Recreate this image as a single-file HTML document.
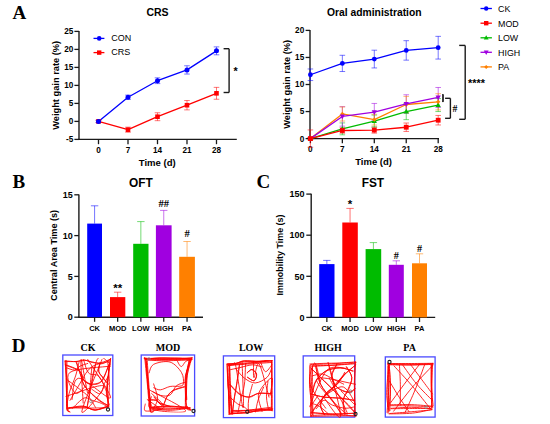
<!DOCTYPE html>
<html><head><meta charset="utf-8"><style>
html,body{margin:0;padding:0;background:#fff;}
svg{display:block;}
</style></head><body>
<svg width="550" height="424" viewBox="0 0 550 424">
<rect width="550" height="424" fill="#fff"/>
<text x="12.50" y="18.90" font-family="Liberation Serif, serif" font-size="19" font-weight="bold" fill="#000">A</text>
<text x="12.40" y="187.70" font-family="Liberation Serif, serif" font-size="19" font-weight="bold" fill="#000">B</text>
<text x="256.40" y="187.70" font-family="Liberation Serif, serif" font-size="19" font-weight="bold" fill="#000">C</text>
<text x="11.80" y="352.10" font-family="Liberation Serif, serif" font-size="19" font-weight="bold" fill="#000">D</text>
<text x="157.50" y="16.40" font-family="Liberation Sans, sans-serif" font-size="10.5" font-weight="bold" fill="#000" text-anchor="middle">CRS</text>
<line x1="79.00" y1="31.10" x2="79.00" y2="140.00" stroke="#1a1a1a" stroke-width="1.4"/>
<line x1="78.40" y1="139.40" x2="236.80" y2="139.40" stroke="#1a1a1a" stroke-width="1.4"/>
<line x1="74.40" y1="139.40" x2="79.00" y2="139.40" stroke="#1a1a1a" stroke-width="1.3"/>
<text x="73.40" y="142.30" font-family="Liberation Sans, sans-serif" font-size="8.2" font-weight="bold" fill="#000" text-anchor="end">-5</text>
<line x1="74.40" y1="121.40" x2="79.00" y2="121.40" stroke="#1a1a1a" stroke-width="1.3"/>
<text x="73.40" y="124.30" font-family="Liberation Sans, sans-serif" font-size="8.2" font-weight="bold" fill="#000" text-anchor="end">0</text>
<line x1="74.40" y1="103.40" x2="79.00" y2="103.40" stroke="#1a1a1a" stroke-width="1.3"/>
<text x="73.40" y="106.30" font-family="Liberation Sans, sans-serif" font-size="8.2" font-weight="bold" fill="#000" text-anchor="end">5</text>
<line x1="74.40" y1="85.40" x2="79.00" y2="85.40" stroke="#1a1a1a" stroke-width="1.3"/>
<text x="73.40" y="88.30" font-family="Liberation Sans, sans-serif" font-size="8.2" font-weight="bold" fill="#000" text-anchor="end">10</text>
<line x1="74.40" y1="67.40" x2="79.00" y2="67.40" stroke="#1a1a1a" stroke-width="1.3"/>
<text x="73.40" y="70.30" font-family="Liberation Sans, sans-serif" font-size="8.2" font-weight="bold" fill="#000" text-anchor="end">15</text>
<line x1="74.40" y1="49.40" x2="79.00" y2="49.40" stroke="#1a1a1a" stroke-width="1.3"/>
<text x="73.40" y="52.30" font-family="Liberation Sans, sans-serif" font-size="8.2" font-weight="bold" fill="#000" text-anchor="end">20</text>
<line x1="74.40" y1="31.40" x2="79.00" y2="31.40" stroke="#1a1a1a" stroke-width="1.3"/>
<text x="73.40" y="34.30" font-family="Liberation Sans, sans-serif" font-size="8.2" font-weight="bold" fill="#000" text-anchor="end">25</text>
<line x1="98.50" y1="139.40" x2="98.50" y2="144.20" stroke="#1a1a1a" stroke-width="1.3"/>
<text x="98.50" y="152.70" font-family="Liberation Sans, sans-serif" font-size="8.2" font-weight="bold" fill="#000" text-anchor="middle">0</text>
<line x1="128.00" y1="139.40" x2="128.00" y2="144.20" stroke="#1a1a1a" stroke-width="1.3"/>
<text x="128.00" y="152.70" font-family="Liberation Sans, sans-serif" font-size="8.2" font-weight="bold" fill="#000" text-anchor="middle">7</text>
<line x1="157.50" y1="139.40" x2="157.50" y2="144.20" stroke="#1a1a1a" stroke-width="1.3"/>
<text x="157.50" y="152.70" font-family="Liberation Sans, sans-serif" font-size="8.2" font-weight="bold" fill="#000" text-anchor="middle">14</text>
<line x1="186.99" y1="139.40" x2="186.99" y2="144.20" stroke="#1a1a1a" stroke-width="1.3"/>
<text x="186.99" y="152.70" font-family="Liberation Sans, sans-serif" font-size="8.2" font-weight="bold" fill="#000" text-anchor="middle">21</text>
<line x1="216.49" y1="139.40" x2="216.49" y2="144.20" stroke="#1a1a1a" stroke-width="1.3"/>
<text x="216.49" y="152.70" font-family="Liberation Sans, sans-serif" font-size="8.2" font-weight="bold" fill="#000" text-anchor="middle">28</text>
<text x="157.30" y="166.00" font-family="Liberation Sans, sans-serif" font-size="9" font-weight="bold" fill="#000" text-anchor="middle" textLength="37" lengthAdjust="spacingAndGlyphs">Time  (d)</text>
<text x="59.20" y="85.30" font-family="Liberation Sans, sans-serif" font-size="9" font-weight="bold" fill="#000" text-anchor="middle" textLength="89" lengthAdjust="spacingAndGlyphs" transform="rotate(-90 59.2 85.3)">Weight gain rate  (%)</text>
<line x1="98.50" y1="120.32" x2="98.50" y2="122.48" stroke="#0000ff" stroke-width="0.9" stroke-opacity="0.6"/>
<line x1="95.70" y1="120.32" x2="101.30" y2="120.32" stroke="#0000ff" stroke-width="0.9" stroke-opacity="0.6"/>
<line x1="95.70" y1="122.48" x2="101.30" y2="122.48" stroke="#0000ff" stroke-width="0.9" stroke-opacity="0.6"/>
<line x1="98.50" y1="120.32" x2="98.50" y2="122.48" stroke="#ff0000" stroke-width="0.9" stroke-opacity="0.6"/>
<line x1="95.70" y1="120.32" x2="101.30" y2="120.32" stroke="#ff0000" stroke-width="0.9" stroke-opacity="0.6"/>
<line x1="95.70" y1="122.48" x2="101.30" y2="122.48" stroke="#ff0000" stroke-width="0.9" stroke-opacity="0.6"/>
<line x1="128.00" y1="95.12" x2="128.00" y2="99.44" stroke="#0000ff" stroke-width="0.9" stroke-opacity="0.6"/>
<line x1="125.20" y1="95.12" x2="130.80" y2="95.12" stroke="#0000ff" stroke-width="0.9" stroke-opacity="0.6"/>
<line x1="125.20" y1="99.44" x2="130.80" y2="99.44" stroke="#0000ff" stroke-width="0.9" stroke-opacity="0.6"/>
<line x1="128.00" y1="127.16" x2="128.00" y2="132.20" stroke="#ff0000" stroke-width="0.9" stroke-opacity="0.6"/>
<line x1="125.20" y1="127.16" x2="130.80" y2="127.16" stroke="#ff0000" stroke-width="0.9" stroke-opacity="0.6"/>
<line x1="125.20" y1="132.20" x2="130.80" y2="132.20" stroke="#ff0000" stroke-width="0.9" stroke-opacity="0.6"/>
<line x1="157.50" y1="77.84" x2="157.50" y2="83.60" stroke="#0000ff" stroke-width="0.9" stroke-opacity="0.6"/>
<line x1="154.70" y1="77.84" x2="160.30" y2="77.84" stroke="#0000ff" stroke-width="0.9" stroke-opacity="0.6"/>
<line x1="154.70" y1="83.60" x2="160.30" y2="83.60" stroke="#0000ff" stroke-width="0.9" stroke-opacity="0.6"/>
<line x1="157.50" y1="112.76" x2="157.50" y2="120.68" stroke="#ff0000" stroke-width="0.9" stroke-opacity="0.6"/>
<line x1="154.70" y1="112.76" x2="160.30" y2="112.76" stroke="#ff0000" stroke-width="0.9" stroke-opacity="0.6"/>
<line x1="154.70" y1="120.68" x2="160.30" y2="120.68" stroke="#ff0000" stroke-width="0.9" stroke-opacity="0.6"/>
<line x1="186.99" y1="65.78" x2="186.99" y2="74.06" stroke="#0000ff" stroke-width="0.9" stroke-opacity="0.6"/>
<line x1="184.19" y1="65.78" x2="189.79" y2="65.78" stroke="#0000ff" stroke-width="0.9" stroke-opacity="0.6"/>
<line x1="184.19" y1="74.06" x2="189.79" y2="74.06" stroke="#0000ff" stroke-width="0.9" stroke-opacity="0.6"/>
<line x1="186.99" y1="100.52" x2="186.99" y2="109.88" stroke="#ff0000" stroke-width="0.9" stroke-opacity="0.6"/>
<line x1="184.19" y1="100.52" x2="189.79" y2="100.52" stroke="#ff0000" stroke-width="0.9" stroke-opacity="0.6"/>
<line x1="184.19" y1="109.88" x2="189.79" y2="109.88" stroke="#ff0000" stroke-width="0.9" stroke-opacity="0.6"/>
<line x1="216.49" y1="46.88" x2="216.49" y2="54.80" stroke="#0000ff" stroke-width="0.9" stroke-opacity="0.6"/>
<line x1="213.69" y1="46.88" x2="219.29" y2="46.88" stroke="#0000ff" stroke-width="0.9" stroke-opacity="0.6"/>
<line x1="213.69" y1="54.80" x2="219.29" y2="54.80" stroke="#0000ff" stroke-width="0.9" stroke-opacity="0.6"/>
<line x1="216.49" y1="87.38" x2="216.49" y2="99.26" stroke="#ff0000" stroke-width="0.9" stroke-opacity="0.6"/>
<line x1="213.69" y1="87.38" x2="219.29" y2="87.38" stroke="#ff0000" stroke-width="0.9" stroke-opacity="0.6"/>
<line x1="213.69" y1="99.26" x2="219.29" y2="99.26" stroke="#ff0000" stroke-width="0.9" stroke-opacity="0.6"/>
<polyline points="98.50,121.40 128.00,129.68 157.50,116.72 186.99,105.20 216.49,93.32" fill="none" stroke="#ff0000" stroke-width="1.3" stroke-linejoin="round"/>
<polyline points="98.50,121.40 128.00,97.28 157.50,80.72 186.99,69.92 216.49,50.84" fill="none" stroke="#0000ff" stroke-width="1.3" stroke-linejoin="round"/>
<rect x="96.20" y="119.10" width="4.60" height="4.60" fill="#ff0000"/>
<rect x="125.70" y="127.38" width="4.60" height="4.60" fill="#ff0000"/>
<rect x="155.20" y="114.42" width="4.60" height="4.60" fill="#ff0000"/>
<rect x="184.69" y="102.90" width="4.60" height="4.60" fill="#ff0000"/>
<rect x="214.19" y="91.02" width="4.60" height="4.60" fill="#ff0000"/>
<circle cx="98.50" cy="121.40" r="2.5" fill="#0000ff"/>
<circle cx="128.00" cy="97.28" r="2.5" fill="#0000ff"/>
<circle cx="157.50" cy="80.72" r="2.5" fill="#0000ff"/>
<circle cx="186.99" cy="69.92" r="2.5" fill="#0000ff"/>
<circle cx="216.49" cy="50.84" r="2.5" fill="#0000ff"/>
<line x1="93.50" y1="38.40" x2="104.40" y2="38.40" stroke="#0000ff" stroke-width="1.3"/>
<circle cx="99.20" cy="38.40" r="2.3" fill="#0000ff"/>
<text x="111.20" y="41.00" font-family="Liberation Sans, sans-serif" font-size="9" font-weight="normal" fill="#000">CON</text>
<line x1="93.50" y1="52.60" x2="104.40" y2="52.60" stroke="#ff0000" stroke-width="1.3"/>
<rect x="97.00" y="50.40" width="4.40" height="4.40" fill="#ff0000"/>
<text x="111.20" y="55.20" font-family="Liberation Sans, sans-serif" font-size="9" font-weight="normal" fill="#000">CRS</text>
<line x1="223.60" y1="48.70" x2="229.10" y2="48.70" stroke="#1a1a1a" stroke-width="1.4"/>
<line x1="229.10" y1="48.70" x2="229.10" y2="92.50" stroke="#1a1a1a" stroke-width="1.4"/>
<line x1="223.60" y1="92.50" x2="229.10" y2="92.50" stroke="#1a1a1a" stroke-width="1.4"/>
<text x="235.50" y="74.80" font-family="Liberation Sans, sans-serif" font-size="10.8" font-weight="bold" fill="#000" text-anchor="middle">*</text>
<text x="374.30" y="16.00" font-family="Liberation Sans, sans-serif" font-size="10.4" font-weight="bold" fill="#000" text-anchor="middle" textLength="94.6" lengthAdjust="spacingAndGlyphs">Oral administration</text>
<line x1="310.00" y1="30.10" x2="310.00" y2="139.20" stroke="#1a1a1a" stroke-width="1.4"/>
<line x1="309.40" y1="138.60" x2="439.00" y2="138.60" stroke="#1a1a1a" stroke-width="1.4"/>
<line x1="305.60" y1="138.60" x2="310.00" y2="138.60" stroke="#1a1a1a" stroke-width="1.3"/>
<text x="304.20" y="141.50" font-family="Liberation Sans, sans-serif" font-size="8.2" font-weight="bold" fill="#000" text-anchor="end">0</text>
<line x1="305.60" y1="111.55" x2="310.00" y2="111.55" stroke="#1a1a1a" stroke-width="1.3"/>
<text x="304.20" y="114.45" font-family="Liberation Sans, sans-serif" font-size="8.2" font-weight="bold" fill="#000" text-anchor="end">5</text>
<line x1="305.60" y1="84.50" x2="310.00" y2="84.50" stroke="#1a1a1a" stroke-width="1.3"/>
<text x="304.20" y="87.40" font-family="Liberation Sans, sans-serif" font-size="8.2" font-weight="bold" fill="#000" text-anchor="end">10</text>
<line x1="305.60" y1="57.45" x2="310.00" y2="57.45" stroke="#1a1a1a" stroke-width="1.3"/>
<text x="304.20" y="60.35" font-family="Liberation Sans, sans-serif" font-size="8.2" font-weight="bold" fill="#000" text-anchor="end">15</text>
<line x1="305.60" y1="30.40" x2="310.00" y2="30.40" stroke="#1a1a1a" stroke-width="1.3"/>
<text x="304.20" y="33.30" font-family="Liberation Sans, sans-serif" font-size="8.2" font-weight="bold" fill="#000" text-anchor="end">20</text>
<line x1="310.40" y1="138.60" x2="310.40" y2="143.20" stroke="#1a1a1a" stroke-width="1.3"/>
<text x="310.40" y="151.80" font-family="Liberation Sans, sans-serif" font-size="8.2" font-weight="bold" fill="#000" text-anchor="middle">0</text>
<line x1="342.35" y1="138.60" x2="342.35" y2="143.20" stroke="#1a1a1a" stroke-width="1.3"/>
<text x="342.35" y="151.80" font-family="Liberation Sans, sans-serif" font-size="8.2" font-weight="bold" fill="#000" text-anchor="middle">7</text>
<line x1="374.30" y1="138.60" x2="374.30" y2="143.20" stroke="#1a1a1a" stroke-width="1.3"/>
<text x="374.30" y="151.80" font-family="Liberation Sans, sans-serif" font-size="8.2" font-weight="bold" fill="#000" text-anchor="middle">14</text>
<line x1="406.24" y1="138.60" x2="406.24" y2="143.20" stroke="#1a1a1a" stroke-width="1.3"/>
<text x="406.24" y="151.80" font-family="Liberation Sans, sans-serif" font-size="8.2" font-weight="bold" fill="#000" text-anchor="middle">21</text>
<line x1="438.19" y1="138.60" x2="438.19" y2="143.20" stroke="#1a1a1a" stroke-width="1.3"/>
<text x="438.19" y="151.80" font-family="Liberation Sans, sans-serif" font-size="8.2" font-weight="bold" fill="#000" text-anchor="middle">28</text>
<text x="373.60" y="164.60" font-family="Liberation Sans, sans-serif" font-size="9" font-weight="bold" fill="#000" text-anchor="middle" textLength="36.7" lengthAdjust="spacingAndGlyphs">Time  (d)</text>
<text x="290.10" y="84.30" font-family="Liberation Sans, sans-serif" font-size="9" font-weight="bold" fill="#000" text-anchor="middle" textLength="89" lengthAdjust="spacingAndGlyphs" transform="rotate(-90 290.1 84.3)">Weight gain rate  (%)</text>
<line x1="310.40" y1="68.97" x2="310.40" y2="80.55" stroke="#0000ff" stroke-width="0.9" stroke-opacity="0.6"/>
<line x1="307.60" y1="68.97" x2="313.20" y2="68.97" stroke="#0000ff" stroke-width="0.9" stroke-opacity="0.6"/>
<line x1="307.60" y1="80.55" x2="313.20" y2="80.55" stroke="#0000ff" stroke-width="0.9" stroke-opacity="0.6"/>
<line x1="342.35" y1="55.29" x2="342.35" y2="71.52" stroke="#0000ff" stroke-width="0.9" stroke-opacity="0.6"/>
<line x1="339.55" y1="55.29" x2="345.15" y2="55.29" stroke="#0000ff" stroke-width="0.9" stroke-opacity="0.6"/>
<line x1="339.55" y1="71.52" x2="345.15" y2="71.52" stroke="#0000ff" stroke-width="0.9" stroke-opacity="0.6"/>
<line x1="374.30" y1="50.20" x2="374.30" y2="67.95" stroke="#0000ff" stroke-width="0.9" stroke-opacity="0.6"/>
<line x1="371.50" y1="50.20" x2="377.10" y2="50.20" stroke="#0000ff" stroke-width="0.9" stroke-opacity="0.6"/>
<line x1="371.50" y1="67.95" x2="377.10" y2="67.95" stroke="#0000ff" stroke-width="0.9" stroke-opacity="0.6"/>
<line x1="406.24" y1="40.68" x2="406.24" y2="60.15" stroke="#0000ff" stroke-width="0.9" stroke-opacity="0.6"/>
<line x1="403.44" y1="40.68" x2="409.04" y2="40.68" stroke="#0000ff" stroke-width="0.9" stroke-opacity="0.6"/>
<line x1="403.44" y1="60.15" x2="409.04" y2="60.15" stroke="#0000ff" stroke-width="0.9" stroke-opacity="0.6"/>
<line x1="438.19" y1="36.35" x2="438.19" y2="59.07" stroke="#0000ff" stroke-width="0.9" stroke-opacity="0.6"/>
<line x1="435.39" y1="36.35" x2="440.99" y2="36.35" stroke="#0000ff" stroke-width="0.9" stroke-opacity="0.6"/>
<line x1="435.39" y1="59.07" x2="440.99" y2="59.07" stroke="#0000ff" stroke-width="0.9" stroke-opacity="0.6"/>
<line x1="310.40" y1="129.94" x2="310.40" y2="147.26" stroke="#ff0000" stroke-width="0.9" stroke-opacity="0.6"/>
<line x1="307.60" y1="129.94" x2="313.20" y2="129.94" stroke="#ff0000" stroke-width="0.9" stroke-opacity="0.6"/>
<line x1="307.60" y1="147.26" x2="313.20" y2="147.26" stroke="#ff0000" stroke-width="0.9" stroke-opacity="0.6"/>
<line x1="342.35" y1="127.78" x2="342.35" y2="133.19" stroke="#ff0000" stroke-width="0.9" stroke-opacity="0.6"/>
<line x1="339.55" y1="127.78" x2="345.15" y2="127.78" stroke="#ff0000" stroke-width="0.9" stroke-opacity="0.6"/>
<line x1="339.55" y1="133.19" x2="345.15" y2="133.19" stroke="#ff0000" stroke-width="0.9" stroke-opacity="0.6"/>
<line x1="374.30" y1="127.18" x2="374.30" y2="133.14" stroke="#ff0000" stroke-width="0.9" stroke-opacity="0.6"/>
<line x1="371.50" y1="127.18" x2="377.10" y2="127.18" stroke="#ff0000" stroke-width="0.9" stroke-opacity="0.6"/>
<line x1="371.50" y1="133.14" x2="377.10" y2="133.14" stroke="#ff0000" stroke-width="0.9" stroke-opacity="0.6"/>
<line x1="406.24" y1="123.02" x2="406.24" y2="131.46" stroke="#ff0000" stroke-width="0.9" stroke-opacity="0.6"/>
<line x1="403.44" y1="123.02" x2="409.04" y2="123.02" stroke="#ff0000" stroke-width="0.9" stroke-opacity="0.6"/>
<line x1="403.44" y1="131.46" x2="409.04" y2="131.46" stroke="#ff0000" stroke-width="0.9" stroke-opacity="0.6"/>
<line x1="438.19" y1="115.45" x2="438.19" y2="124.97" stroke="#ff0000" stroke-width="0.9" stroke-opacity="0.6"/>
<line x1="435.39" y1="115.45" x2="440.99" y2="115.45" stroke="#ff0000" stroke-width="0.9" stroke-opacity="0.6"/>
<line x1="435.39" y1="124.97" x2="440.99" y2="124.97" stroke="#ff0000" stroke-width="0.9" stroke-opacity="0.6"/>
<line x1="310.40" y1="137.52" x2="310.40" y2="139.68" stroke="#00bb00" stroke-width="0.9" stroke-opacity="0.6"/>
<line x1="307.60" y1="137.52" x2="313.20" y2="137.52" stroke="#00bb00" stroke-width="0.9" stroke-opacity="0.6"/>
<line x1="307.60" y1="139.68" x2="313.20" y2="139.68" stroke="#00bb00" stroke-width="0.9" stroke-opacity="0.6"/>
<line x1="342.35" y1="122.91" x2="342.35" y2="134.81" stroke="#00bb00" stroke-width="0.9" stroke-opacity="0.6"/>
<line x1="339.55" y1="122.91" x2="345.15" y2="122.91" stroke="#00bb00" stroke-width="0.9" stroke-opacity="0.6"/>
<line x1="339.55" y1="134.81" x2="345.15" y2="134.81" stroke="#00bb00" stroke-width="0.9" stroke-opacity="0.6"/>
<line x1="374.30" y1="115.07" x2="374.30" y2="126.97" stroke="#00bb00" stroke-width="0.9" stroke-opacity="0.6"/>
<line x1="371.50" y1="115.07" x2="377.10" y2="115.07" stroke="#00bb00" stroke-width="0.9" stroke-opacity="0.6"/>
<line x1="371.50" y1="126.97" x2="377.10" y2="126.97" stroke="#00bb00" stroke-width="0.9" stroke-opacity="0.6"/>
<line x1="406.24" y1="103.44" x2="406.24" y2="119.66" stroke="#00bb00" stroke-width="0.9" stroke-opacity="0.6"/>
<line x1="403.44" y1="103.44" x2="409.04" y2="103.44" stroke="#00bb00" stroke-width="0.9" stroke-opacity="0.6"/>
<line x1="403.44" y1="119.66" x2="409.04" y2="119.66" stroke="#00bb00" stroke-width="0.9" stroke-opacity="0.6"/>
<line x1="438.19" y1="98.57" x2="438.19" y2="111.55" stroke="#00bb00" stroke-width="0.9" stroke-opacity="0.6"/>
<line x1="435.39" y1="98.57" x2="440.99" y2="98.57" stroke="#00bb00" stroke-width="0.9" stroke-opacity="0.6"/>
<line x1="435.39" y1="111.55" x2="440.99" y2="111.55" stroke="#00bb00" stroke-width="0.9" stroke-opacity="0.6"/>
<line x1="310.40" y1="137.52" x2="310.40" y2="139.68" stroke="#a000e0" stroke-width="0.9" stroke-opacity="0.6"/>
<line x1="307.60" y1="137.52" x2="313.20" y2="137.52" stroke="#a000e0" stroke-width="0.9" stroke-opacity="0.6"/>
<line x1="307.60" y1="139.68" x2="313.20" y2="139.68" stroke="#a000e0" stroke-width="0.9" stroke-opacity="0.6"/>
<line x1="342.35" y1="106.68" x2="342.35" y2="126.16" stroke="#a000e0" stroke-width="0.9" stroke-opacity="0.6"/>
<line x1="339.55" y1="106.68" x2="345.15" y2="106.68" stroke="#a000e0" stroke-width="0.9" stroke-opacity="0.6"/>
<line x1="339.55" y1="126.16" x2="345.15" y2="126.16" stroke="#a000e0" stroke-width="0.9" stroke-opacity="0.6"/>
<line x1="374.30" y1="103.44" x2="374.30" y2="120.75" stroke="#a000e0" stroke-width="0.9" stroke-opacity="0.6"/>
<line x1="371.50" y1="103.44" x2="377.10" y2="103.44" stroke="#a000e0" stroke-width="0.9" stroke-opacity="0.6"/>
<line x1="371.50" y1="120.75" x2="377.10" y2="120.75" stroke="#a000e0" stroke-width="0.9" stroke-opacity="0.6"/>
<line x1="406.24" y1="94.78" x2="406.24" y2="113.17" stroke="#a000e0" stroke-width="0.9" stroke-opacity="0.6"/>
<line x1="403.44" y1="94.78" x2="409.04" y2="94.78" stroke="#a000e0" stroke-width="0.9" stroke-opacity="0.6"/>
<line x1="403.44" y1="113.17" x2="409.04" y2="113.17" stroke="#a000e0" stroke-width="0.9" stroke-opacity="0.6"/>
<line x1="438.19" y1="87.48" x2="438.19" y2="107.49" stroke="#a000e0" stroke-width="0.9" stroke-opacity="0.6"/>
<line x1="435.39" y1="87.48" x2="440.99" y2="87.48" stroke="#a000e0" stroke-width="0.9" stroke-opacity="0.6"/>
<line x1="435.39" y1="107.49" x2="440.99" y2="107.49" stroke="#a000e0" stroke-width="0.9" stroke-opacity="0.6"/>
<line x1="310.40" y1="137.52" x2="310.40" y2="139.68" stroke="#ff8000" stroke-width="0.9" stroke-opacity="0.6"/>
<line x1="307.60" y1="137.52" x2="313.20" y2="137.52" stroke="#ff8000" stroke-width="0.9" stroke-opacity="0.6"/>
<line x1="307.60" y1="139.68" x2="313.20" y2="139.68" stroke="#ff8000" stroke-width="0.9" stroke-opacity="0.6"/>
<line x1="342.35" y1="106.95" x2="342.35" y2="121.02" stroke="#ff8000" stroke-width="0.9" stroke-opacity="0.6"/>
<line x1="339.55" y1="106.95" x2="345.15" y2="106.95" stroke="#ff8000" stroke-width="0.9" stroke-opacity="0.6"/>
<line x1="339.55" y1="121.02" x2="345.15" y2="121.02" stroke="#ff8000" stroke-width="0.9" stroke-opacity="0.6"/>
<line x1="374.30" y1="114.25" x2="374.30" y2="125.07" stroke="#ff8000" stroke-width="0.9" stroke-opacity="0.6"/>
<line x1="371.50" y1="114.25" x2="377.10" y2="114.25" stroke="#ff8000" stroke-width="0.9" stroke-opacity="0.6"/>
<line x1="371.50" y1="125.07" x2="377.10" y2="125.07" stroke="#ff8000" stroke-width="0.9" stroke-opacity="0.6"/>
<line x1="406.24" y1="96.40" x2="406.24" y2="112.63" stroke="#ff8000" stroke-width="0.9" stroke-opacity="0.6"/>
<line x1="403.44" y1="96.40" x2="409.04" y2="96.40" stroke="#ff8000" stroke-width="0.9" stroke-opacity="0.6"/>
<line x1="403.44" y1="112.63" x2="409.04" y2="112.63" stroke="#ff8000" stroke-width="0.9" stroke-opacity="0.6"/>
<line x1="438.19" y1="93.70" x2="438.19" y2="109.93" stroke="#ff8000" stroke-width="0.9" stroke-opacity="0.6"/>
<line x1="435.39" y1="93.70" x2="440.99" y2="93.70" stroke="#ff8000" stroke-width="0.9" stroke-opacity="0.6"/>
<line x1="435.39" y1="109.93" x2="440.99" y2="109.93" stroke="#ff8000" stroke-width="0.9" stroke-opacity="0.6"/>
<polyline points="310.40,74.76 342.35,63.40 374.30,59.07 406.24,50.42 438.19,47.71" fill="none" stroke="#0000ff" stroke-width="1.3" stroke-linejoin="round"/>
<circle cx="310.40" cy="74.76" r="2.4" fill="#0000ff"/>
<circle cx="342.35" cy="63.40" r="2.4" fill="#0000ff"/>
<circle cx="374.30" cy="59.07" r="2.4" fill="#0000ff"/>
<circle cx="406.24" cy="50.42" r="2.4" fill="#0000ff"/>
<circle cx="438.19" cy="47.71" r="2.4" fill="#0000ff"/>
<polyline points="310.40,138.60 342.35,128.86 374.30,121.02 406.24,111.55 438.19,105.06" fill="none" stroke="#00bb00" stroke-width="1.3" stroke-linejoin="round"/>
<polygon points="310.40,135.72 313.04,140.52 307.76,140.52" fill="#00bb00"/>
<polygon points="342.35,125.98 344.99,130.78 339.71,130.78" fill="#00bb00"/>
<polygon points="374.30,118.14 376.94,122.94 371.66,122.94" fill="#00bb00"/>
<polygon points="406.24,108.67 408.88,113.47 403.60,113.47" fill="#00bb00"/>
<polygon points="438.19,102.18 440.83,106.98 435.55,106.98" fill="#00bb00"/>
<polyline points="310.40,138.60 342.35,113.98 374.30,119.66 406.24,104.52 438.19,101.81" fill="none" stroke="#ff8000" stroke-width="1.3" stroke-linejoin="round"/>
<polygon points="310.40,136.44 312.56,138.60 310.40,140.76 308.24,138.60" fill="#ff8000"/>
<polygon points="342.35,111.82 344.51,113.98 342.35,116.14 340.19,113.98" fill="#ff8000"/>
<polygon points="374.30,117.50 376.46,119.66 374.30,121.82 372.14,119.66" fill="#ff8000"/>
<polygon points="406.24,102.36 408.40,104.52 406.24,106.68 404.08,104.52" fill="#ff8000"/>
<polygon points="438.19,99.65 440.35,101.81 438.19,103.97 436.03,101.81" fill="#ff8000"/>
<polyline points="310.40,138.60 342.35,116.42 374.30,112.09 406.24,103.98 438.19,97.48" fill="none" stroke="#a000e0" stroke-width="1.3" stroke-linejoin="round"/>
<polygon points="310.40,141.48 313.04,136.68 307.76,136.68" fill="#a000e0"/>
<polygon points="342.35,119.30 344.99,114.50 339.71,114.50" fill="#a000e0"/>
<polygon points="374.30,114.97 376.94,110.17 371.66,110.17" fill="#a000e0"/>
<polygon points="406.24,106.86 408.88,102.06 403.60,102.06" fill="#a000e0"/>
<polygon points="438.19,100.36 440.83,95.56 435.55,95.56" fill="#a000e0"/>
<polyline points="310.40,138.60 342.35,130.48 374.30,130.16 406.24,127.24 438.19,120.21" fill="none" stroke="#ff0000" stroke-width="1.3" stroke-linejoin="round"/>
<rect x="308.00" y="136.20" width="4.80" height="4.80" fill="#ff0000"/>
<rect x="339.95" y="128.08" width="4.80" height="4.80" fill="#ff0000"/>
<rect x="371.90" y="127.76" width="4.80" height="4.80" fill="#ff0000"/>
<rect x="403.84" y="124.84" width="4.80" height="4.80" fill="#ff0000"/>
<rect x="435.79" y="117.81" width="4.80" height="4.80" fill="#ff0000"/>
<line x1="480.50" y1="8.50" x2="491.90" y2="8.50" stroke="#0000ff" stroke-width="1.3"/>
<circle cx="486.20" cy="8.50" r="2.2" fill="#0000ff"/>
<text x="498.00" y="11.80" font-family="Liberation Sans, sans-serif" font-size="8.9" font-weight="normal" fill="#000">CK</text>
<line x1="480.50" y1="23.20" x2="491.90" y2="23.20" stroke="#ff0000" stroke-width="1.3"/>
<rect x="484.00" y="21.00" width="4.40" height="4.40" fill="#ff0000"/>
<text x="498.00" y="26.50" font-family="Liberation Sans, sans-serif" font-size="8.9" font-weight="normal" fill="#000">MOD</text>
<line x1="480.50" y1="37.80" x2="491.90" y2="37.80" stroke="#00bb00" stroke-width="1.3"/>
<polygon points="486.20,35.16 488.62,39.56 483.78,39.56" fill="#00bb00"/>
<text x="498.00" y="41.10" font-family="Liberation Sans, sans-serif" font-size="8.9" font-weight="normal" fill="#000">LOW</text>
<line x1="480.50" y1="52.30" x2="491.90" y2="52.30" stroke="#a000e0" stroke-width="1.3"/>
<polygon points="486.20,54.94 488.62,50.54 483.78,50.54" fill="#a000e0"/>
<text x="498.00" y="55.60" font-family="Liberation Sans, sans-serif" font-size="8.9" font-weight="normal" fill="#000">HIGH</text>
<line x1="480.50" y1="66.90" x2="491.90" y2="66.90" stroke="#ff8000" stroke-width="1.3"/>
<polygon points="486.20,64.92 488.18,66.90 486.20,68.88 484.22,66.90" fill="#ff8000"/>
<text x="498.00" y="70.20" font-family="Liberation Sans, sans-serif" font-size="8.9" font-weight="normal" fill="#000">PA</text>
<line x1="459.20" y1="45.40" x2="465.20" y2="45.40" stroke="#1a1a1a" stroke-width="1.4"/>
<line x1="465.20" y1="45.40" x2="465.20" y2="119.30" stroke="#1a1a1a" stroke-width="1.4"/>
<line x1="459.20" y1="119.30" x2="465.20" y2="119.30" stroke="#1a1a1a" stroke-width="1.4"/>
<text x="476.50" y="87.20" font-family="Liberation Sans, sans-serif" font-size="10.8" font-weight="bold" fill="#000" text-anchor="middle">****</text>
<line x1="445.10" y1="98.30" x2="450.40" y2="98.30" stroke="#1a1a1a" stroke-width="1.4"/>
<line x1="450.40" y1="98.30" x2="450.40" y2="118.30" stroke="#1a1a1a" stroke-width="1.4"/>
<line x1="445.10" y1="118.30" x2="450.40" y2="118.30" stroke="#1a1a1a" stroke-width="1.4"/>
<text x="454.90" y="111.90" font-family="Liberation Serif, serif" font-size="9.8" font-weight="bold" fill="#000" text-anchor="middle">#</text>
<line x1="442.20" y1="94.60" x2="443.40" y2="94.60" stroke="#1a1a1a" stroke-width="1.0"/>
<line x1="443.00" y1="94.40" x2="443.00" y2="101.80" stroke="#1a1a1a" stroke-width="1.7"/>
<line x1="442.20" y1="101.60" x2="443.40" y2="101.60" stroke="#1a1a1a" stroke-width="1.0"/>
<text x="140.95" y="186.60" font-family="Liberation Sans, sans-serif" font-size="11.9" font-weight="bold" fill="#000" text-anchor="middle">OFT</text>
<line x1="78.90" y1="194.50" x2="78.90" y2="317.80" stroke="#1a1a1a" stroke-width="1.4"/>
<line x1="78.30" y1="317.20" x2="203.00" y2="317.20" stroke="#1a1a1a" stroke-width="1.4"/>
<line x1="74.30" y1="317.20" x2="78.90" y2="317.20" stroke="#1a1a1a" stroke-width="1.3"/>
<text x="72.80" y="320.40" font-family="Liberation Sans, sans-serif" font-size="9" font-weight="bold" fill="#000" text-anchor="end">0</text>
<line x1="74.30" y1="276.40" x2="78.90" y2="276.40" stroke="#1a1a1a" stroke-width="1.3"/>
<text x="72.80" y="279.60" font-family="Liberation Sans, sans-serif" font-size="9" font-weight="bold" fill="#000" text-anchor="end">5</text>
<line x1="74.30" y1="235.60" x2="78.90" y2="235.60" stroke="#1a1a1a" stroke-width="1.3"/>
<text x="72.80" y="238.80" font-family="Liberation Sans, sans-serif" font-size="9" font-weight="bold" fill="#000" text-anchor="end">10</text>
<line x1="74.30" y1="194.80" x2="78.90" y2="194.80" stroke="#1a1a1a" stroke-width="1.3"/>
<text x="72.80" y="198.00" font-family="Liberation Sans, sans-serif" font-size="9" font-weight="bold" fill="#000" text-anchor="end">15</text>
<text x="57.00" y="255.40" font-family="Liberation Sans, sans-serif" font-size="9" font-weight="bold" fill="#000" text-anchor="middle" textLength="91" lengthAdjust="spacingAndGlyphs" transform="rotate(-90 57.0 255.4)">Central Area Time (s)</text>
<line x1="94.60" y1="223.60" x2="94.60" y2="205.80" stroke="#0000ff" stroke-width="1.0" stroke-opacity="0.55"/>
<line x1="90.90" y1="205.80" x2="98.30" y2="205.80" stroke="#0000ff" stroke-width="1.0" stroke-opacity="0.55"/>
<rect x="87.20" y="223.60" width="14.80" height="93.60" fill="#0000ff"/>
<line x1="94.60" y1="317.20" x2="94.60" y2="321.80" stroke="#1a1a1a" stroke-width="1.3"/>
<text x="94.60" y="331.30" font-family="Liberation Sans, sans-serif" font-size="7.5" font-weight="bold" fill="#000" text-anchor="middle">CK</text>
<line x1="117.65" y1="297.10" x2="117.65" y2="292.20" stroke="#ff0000" stroke-width="1.0" stroke-opacity="0.55"/>
<line x1="113.95" y1="292.20" x2="121.35" y2="292.20" stroke="#ff0000" stroke-width="1.0" stroke-opacity="0.55"/>
<rect x="110.00" y="297.10" width="15.30" height="20.10" fill="#ff0000"/>
<line x1="117.65" y1="317.20" x2="117.65" y2="321.80" stroke="#1a1a1a" stroke-width="1.3"/>
<text x="117.65" y="331.30" font-family="Liberation Sans, sans-serif" font-size="7.5" font-weight="bold" fill="#000" text-anchor="middle">MOD</text>
<line x1="140.85" y1="243.80" x2="140.85" y2="221.60" stroke="#00bb00" stroke-width="1.0" stroke-opacity="0.55"/>
<line x1="137.15" y1="221.60" x2="144.55" y2="221.60" stroke="#00bb00" stroke-width="1.0" stroke-opacity="0.55"/>
<rect x="133.20" y="243.80" width="15.30" height="73.40" fill="#00bb00"/>
<line x1="140.85" y1="317.20" x2="140.85" y2="321.80" stroke="#1a1a1a" stroke-width="1.3"/>
<text x="140.85" y="331.30" font-family="Liberation Sans, sans-serif" font-size="7.5" font-weight="bold" fill="#000" text-anchor="middle">LOW</text>
<line x1="163.75" y1="225.30" x2="163.75" y2="210.40" stroke="#a000e0" stroke-width="1.0" stroke-opacity="0.55"/>
<line x1="160.05" y1="210.40" x2="167.45" y2="210.40" stroke="#a000e0" stroke-width="1.0" stroke-opacity="0.55"/>
<rect x="155.90" y="225.30" width="15.70" height="91.90" fill="#a000e0"/>
<line x1="163.75" y1="317.20" x2="163.75" y2="321.80" stroke="#1a1a1a" stroke-width="1.3"/>
<text x="163.75" y="331.30" font-family="Liberation Sans, sans-serif" font-size="7.5" font-weight="bold" fill="#000" text-anchor="middle">HIGH</text>
<line x1="187.05" y1="256.80" x2="187.05" y2="241.50" stroke="#ff8000" stroke-width="1.0" stroke-opacity="0.55"/>
<line x1="183.35" y1="241.50" x2="190.75" y2="241.50" stroke="#ff8000" stroke-width="1.0" stroke-opacity="0.55"/>
<rect x="179.20" y="256.80" width="15.70" height="60.40" fill="#ff8000"/>
<line x1="187.05" y1="317.20" x2="187.05" y2="321.80" stroke="#1a1a1a" stroke-width="1.3"/>
<text x="187.05" y="331.30" font-family="Liberation Sans, sans-serif" font-size="7.5" font-weight="bold" fill="#000" text-anchor="middle">PA</text>
<text x="117.70" y="291.86" font-family="Liberation Sans, sans-serif" font-size="11.5" font-weight="bold" fill="#000" text-anchor="middle">**</text>
<text x="163.75" y="206.60" font-family="Liberation Serif, serif" font-size="10.6" font-weight="bold" fill="#000" text-anchor="middle">##</text>
<text x="187.05" y="236.80" font-family="Liberation Serif, serif" font-size="10.6" font-weight="bold" fill="#000" text-anchor="middle">#</text>
<text x="372.90" y="186.60" font-family="Liberation Sans, sans-serif" font-size="11.9" font-weight="bold" fill="#000" text-anchor="middle">FST</text>
<line x1="311.20" y1="193.80" x2="311.20" y2="318.00" stroke="#1a1a1a" stroke-width="1.4"/>
<line x1="310.60" y1="317.40" x2="435.20" y2="317.40" stroke="#1a1a1a" stroke-width="1.4"/>
<line x1="306.30" y1="317.40" x2="311.20" y2="317.40" stroke="#1a1a1a" stroke-width="1.3"/>
<text x="304.60" y="320.60" font-family="Liberation Sans, sans-serif" font-size="9" font-weight="bold" fill="#000" text-anchor="end">0</text>
<line x1="306.30" y1="276.30" x2="311.20" y2="276.30" stroke="#1a1a1a" stroke-width="1.3"/>
<text x="304.60" y="279.50" font-family="Liberation Sans, sans-serif" font-size="9" font-weight="bold" fill="#000" text-anchor="end">50</text>
<line x1="306.30" y1="235.20" x2="311.20" y2="235.20" stroke="#1a1a1a" stroke-width="1.3"/>
<text x="304.60" y="238.40" font-family="Liberation Sans, sans-serif" font-size="9" font-weight="bold" fill="#000" text-anchor="end">100</text>
<line x1="306.30" y1="194.10" x2="311.20" y2="194.10" stroke="#1a1a1a" stroke-width="1.3"/>
<text x="304.60" y="197.30" font-family="Liberation Sans, sans-serif" font-size="9" font-weight="bold" fill="#000" text-anchor="end">150</text>
<text x="283.10" y="255.00" font-family="Liberation Sans, sans-serif" font-size="9" font-weight="bold" fill="#000" text-anchor="middle" textLength="81" lengthAdjust="spacingAndGlyphs" transform="rotate(-90 283.1 255)">Immobility Time (s)</text>
<line x1="326.85" y1="264.10" x2="326.85" y2="260.40" stroke="#0000ff" stroke-width="1.0" stroke-opacity="0.55"/>
<line x1="323.15" y1="260.40" x2="330.55" y2="260.40" stroke="#0000ff" stroke-width="1.0" stroke-opacity="0.55"/>
<rect x="319.20" y="264.10" width="15.30" height="53.30" fill="#0000ff"/>
<line x1="326.85" y1="317.40" x2="326.85" y2="322.00" stroke="#1a1a1a" stroke-width="1.3"/>
<text x="326.85" y="331.30" font-family="Liberation Sans, sans-serif" font-size="7.5" font-weight="bold" fill="#000" text-anchor="middle">CK</text>
<line x1="350.05" y1="222.50" x2="350.05" y2="208.40" stroke="#ff0000" stroke-width="1.0" stroke-opacity="0.55"/>
<line x1="346.35" y1="208.40" x2="353.75" y2="208.40" stroke="#ff0000" stroke-width="1.0" stroke-opacity="0.55"/>
<rect x="342.30" y="222.50" width="15.50" height="94.90" fill="#ff0000"/>
<line x1="350.05" y1="317.40" x2="350.05" y2="322.00" stroke="#1a1a1a" stroke-width="1.3"/>
<text x="350.05" y="331.30" font-family="Liberation Sans, sans-serif" font-size="7.5" font-weight="bold" fill="#000" text-anchor="middle">MOD</text>
<line x1="373.40" y1="249.10" x2="373.40" y2="242.60" stroke="#00bb00" stroke-width="1.0" stroke-opacity="0.55"/>
<line x1="369.70" y1="242.60" x2="377.10" y2="242.60" stroke="#00bb00" stroke-width="1.0" stroke-opacity="0.55"/>
<rect x="365.60" y="249.10" width="15.60" height="68.30" fill="#00bb00"/>
<line x1="373.40" y1="317.40" x2="373.40" y2="322.00" stroke="#1a1a1a" stroke-width="1.3"/>
<text x="373.40" y="331.30" font-family="Liberation Sans, sans-serif" font-size="7.5" font-weight="bold" fill="#000" text-anchor="middle">LOW</text>
<line x1="396.30" y1="264.80" x2="396.30" y2="260.80" stroke="#a000e0" stroke-width="1.0" stroke-opacity="0.55"/>
<line x1="392.60" y1="260.80" x2="400.00" y2="260.80" stroke="#a000e0" stroke-width="1.0" stroke-opacity="0.55"/>
<rect x="388.80" y="264.80" width="15.00" height="52.60" fill="#a000e0"/>
<line x1="396.30" y1="317.40" x2="396.30" y2="322.00" stroke="#1a1a1a" stroke-width="1.3"/>
<text x="396.30" y="331.30" font-family="Liberation Sans, sans-serif" font-size="7.5" font-weight="bold" fill="#000" text-anchor="middle">HIGH</text>
<line x1="419.50" y1="263.30" x2="419.50" y2="253.80" stroke="#ff8000" stroke-width="1.0" stroke-opacity="0.55"/>
<line x1="415.80" y1="253.80" x2="423.20" y2="253.80" stroke="#ff8000" stroke-width="1.0" stroke-opacity="0.55"/>
<rect x="412.00" y="263.30" width="15.00" height="54.10" fill="#ff8000"/>
<line x1="419.50" y1="317.40" x2="419.50" y2="322.00" stroke="#1a1a1a" stroke-width="1.3"/>
<text x="419.50" y="331.30" font-family="Liberation Sans, sans-serif" font-size="7.5" font-weight="bold" fill="#000" text-anchor="middle">PA</text>
<text x="350.05" y="208.16" font-family="Liberation Sans, sans-serif" font-size="11.5" font-weight="bold" fill="#000" text-anchor="middle">*</text>
<text x="396.30" y="259.00" font-family="Liberation Serif, serif" font-size="10.2" font-weight="bold" fill="#000" text-anchor="middle">#</text>
<text x="419.50" y="251.80" font-family="Liberation Serif, serif" font-size="10.2" font-weight="bold" fill="#000" text-anchor="middle">#</text>
<text x="88.05" y="351.40" font-family="Liberation Serif, serif" font-size="10" font-weight="bold" fill="#000" text-anchor="middle">CK</text>
<rect x="62.80" y="355.00" width="50.00" height="60.50" fill="none" stroke="#4b4bff" stroke-width="1.3"/>
<text x="168.00" y="351.40" font-family="Liberation Serif, serif" font-size="10" font-weight="bold" fill="#000" text-anchor="middle">MOD</text>
<rect x="141.20" y="355.00" width="53.40" height="61.00" fill="none" stroke="#4b4bff" stroke-width="1.3"/>
<text x="251.15" y="351.40" font-family="Liberation Serif, serif" font-size="10" font-weight="bold" fill="#000" text-anchor="middle">LOW</text>
<rect x="223.40" y="355.90" width="51.30" height="61.70" fill="none" stroke="#4b4bff" stroke-width="1.3"/>
<text x="328.10" y="351.40" font-family="Liberation Serif, serif" font-size="10" font-weight="bold" fill="#000" text-anchor="middle">HIGH</text>
<rect x="303.20" y="355.90" width="51.50" height="61.20" fill="none" stroke="#4b4bff" stroke-width="1.3"/>
<text x="409.60" y="351.40" font-family="Liberation Serif, serif" font-size="10" font-weight="bold" fill="#000" text-anchor="middle">PA</text>
<rect x="385.30" y="356.90" width="49.80" height="60.20" fill="none" stroke="#4b4bff" stroke-width="1.3"/>
<clipPath id="clip1"><rect x="64.50" y="358.00" width="47.50" height="55.50"/></clipPath>
<path d="M110.50,366.13 C103.72,367.19 75.65,367.98 69.79,372.49 C63.93,377.00 72.59,391.03 75.32,393.20 C78.05,395.36 84.36,386.77 86.16,385.49 M110.50,364.20 C108.28,363.42 101.10,352.31 97.20,359.50 C93.30,366.69 87.39,406.49 87.11,407.34 C86.82,408.19 94.10,371.72 95.50,364.60 M83.19,403.05 C82.84,395.79 80.24,361.07 81.06,359.50 C81.89,357.93 86.34,392.37 88.14,393.61 C89.95,394.85 91.26,371.40 91.88,366.96 M87.75,359.50 C91.54,365.88 112.01,394.65 110.50,397.77 C108.99,400.89 85.13,377.92 78.71,378.23 C72.30,378.54 73.12,396.06 72.01,399.63 M66.00,396.36 C72.26,394.63 100.90,383.33 103.54,385.94 C106.17,388.55 82.09,416.41 81.83,412.00 C81.57,407.59 98.61,368.25 101.96,359.50 M64.89,361.52 C66.84,361.51 73.38,361.73 76.58,361.46 C79.78,361.20 81.43,359.75 84.07,359.92 C86.71,360.10 89.60,362.08 92.41,362.53 C95.21,362.98 97.86,363.19 100.92,362.61 C103.98,362.04 109.11,359.68 110.75,359.09 M110.60,358.23 C110.23,361.28 109.08,370.72 108.37,376.52 C107.65,382.32 106.18,388.30 106.33,393.02 C106.48,397.74 108.79,402.86 109.28,404.83 M64.67,360.91 C65.11,364.74 66.97,376.01 67.30,383.87 C67.63,391.72 66.37,403.48 66.66,408.02 C66.94,412.57 68.62,410.63 69.01,411.15 M67.10,408.17 C69.84,407.82 78.93,405.73 83.54,406.04 C88.15,406.35 90.67,410.09 94.75,410.03 C98.84,409.96 105.84,406.35 108.05,405.62 M65.96,360.88 C67.66,361.01 73.09,361.72 76.19,361.64 C79.30,361.55 81.98,360.36 84.57,360.39 C87.16,360.41 88.83,361.22 91.72,361.78 C94.62,362.35 98.82,364.21 101.96,363.77 C105.09,363.33 109.09,359.92 110.52,359.15 M110.41,359.39 C110.05,362.19 108.80,370.65 108.28,376.16 C107.75,381.68 107.22,387.53 107.25,392.47 C107.29,397.42 108.28,403.63 108.48,405.86 M65.15,360.57 C65.41,364.48 66.43,376.07 66.72,384.02 C67.01,391.96 66.32,403.58 66.90,408.23 C67.47,412.87 69.61,411.28 70.15,411.89 M67.10,408.12 C69.93,407.91 79.38,406.54 84.09,406.85 C88.79,407.17 91.27,410.12 95.33,410.00 C99.40,409.87 106.28,406.75 108.46,406.10 M65.16,365.04 C67.59,366.10 76.61,368.77 79.74,371.35 C82.88,373.94 81.91,378.36 83.97,380.56 C86.03,382.77 89.10,384.52 92.10,384.58 C95.11,384.65 99.22,384.27 102.00,380.93 C104.79,377.60 107.70,367.30 108.84,364.57 M76.07,362.08 C76.88,364.41 79.38,371.82 80.94,376.04 C82.51,380.25 82.45,383.42 85.45,387.36 C88.46,391.30 95.10,396.54 98.98,399.66 C102.86,402.78 107.13,405.02 108.76,406.09 M70.02,400.39 C71.61,397.68 76.68,388.99 79.57,384.12 C82.46,379.25 84.80,374.34 87.35,371.19 C89.90,368.04 91.34,366.80 94.87,365.21 C98.40,363.62 106.27,362.24 108.55,361.65 M66.43,379.27 C68.54,380.85 75.37,385.80 79.12,388.76 C82.87,391.73 86.21,393.97 88.93,397.07 C91.65,400.16 94.34,405.62 95.43,407.34 M83.61,359.76 C84.43,361.95 86.02,370.18 88.57,372.95 C91.12,375.72 95.84,373.13 98.88,376.38 C101.93,379.62 105.52,389.77 106.85,392.44 M91.86,389.26 C93.27,389.99 98.20,394.58 100.30,393.64 C102.40,392.70 103.11,386.59 104.46,383.62 C105.81,380.65 107.75,377.13 108.41,375.83 M72.45,408.30 C74.36,406.61 80.70,399.47 83.92,398.12 C87.14,396.76 88.80,399.29 91.76,400.18 C94.73,401.07 98.96,402.27 101.72,403.46 C104.49,404.65 107.26,406.69 108.37,407.33 M79.08,361.93 C78.50,364.27 77.16,370.98 75.57,375.96 C73.99,380.95 71.01,386.92 69.55,391.82 C68.09,396.72 67.29,403.11 66.83,405.37 M66.43,367.76 C67.78,368.13 72.23,370.27 74.55,369.97 C76.88,369.67 78.19,367.05 80.39,365.96 C82.59,364.88 86.51,363.87 87.74,363.45 M99.79,363.44 C99.61,364.75 98.16,368.85 98.70,371.31 C99.25,373.76 101.43,376.02 103.06,378.16 C104.68,380.29 107.55,383.13 108.45,384.12 M66.95,361.78 C66.89,366.85 66.49,384.18 66.64,392.20 C66.79,400.23 67.65,406.96 67.85,409.92 M107.71,361.43 C108.00,365.27 109.44,376.89 109.42,384.48 C109.41,392.06 107.94,403.19 107.64,406.93 M69.44,407.82 C72.72,407.86 82.73,408.12 89.14,408.10 C95.55,408.07 104.78,407.76 107.91,407.69 M110.25,359.16 C109.91,361.91 108.71,370.22 108.17,375.68 C107.63,381.14 106.98,386.94 107.04,391.92 C107.09,396.91 108.24,403.32 108.47,405.60 M66.02,360.35 C66.03,364.28 65.84,375.91 66.12,383.93 C66.40,391.95 67.10,403.88 67.71,408.46 C68.32,413.04 69.44,410.93 69.79,411.42 M67.56,408.61 C70.29,408.34 79.26,406.71 83.92,406.96 C88.58,407.20 91.33,410.20 95.50,410.09 C99.67,409.98 106.72,406.94 108.96,406.31 M65.20,364.51 C67.61,365.59 76.48,368.23 79.67,370.97 C82.86,373.72 82.21,378.83 84.34,380.99 C86.46,383.16 89.57,384.02 92.44,383.97 C95.32,383.92 98.84,383.85 101.57,380.68 C104.31,377.51 107.63,367.57 108.84,364.95 M76.44,361.27 C77.19,363.67 79.45,371.41 80.92,375.68 C82.38,379.95 82.23,382.76 85.22,386.89 C88.22,391.01 94.96,397.32 98.89,400.44 C102.82,403.56 107.15,404.75 108.80,405.61 M99.96,363.05 C99.77,364.49 98.34,369.24 98.87,371.66 C99.40,374.07 101.59,375.43 103.14,377.52 C104.70,379.60 107.36,383.07 108.20,384.18" fill="none" stroke="#ff0000" stroke-width="0.85" stroke-linejoin="round" stroke-linecap="round" clip-path="url(#clip1)"/>
<clipPath id="clip2"><rect x="143.50" y="357.00" width="49.50" height="55.50"/></clipPath>
<path d="M145.33,404.07 C145.40,405.22 142.67,410.47 145.78,411.00 C148.90,411.53 163.03,410.15 164.01,407.26 C164.99,404.36 153.74,395.90 151.69,393.62 M152.83,391.66 C158.30,394.88 185.93,408.11 185.67,411.00 C185.40,413.89 156.93,411.41 151.23,409.03 C145.53,406.64 151.42,398.76 151.46,396.71 M147.20,399.57 C149.48,401.17 159.38,407.86 160.89,409.17 C162.41,410.48 156.67,407.35 156.30,407.42 C155.93,407.48 158.28,409.20 158.68,409.56 M145.33,359.32 C147.98,359.08 155.61,357.98 161.19,357.91 C166.77,357.84 173.65,358.87 178.80,358.89 C183.95,358.91 189.89,358.18 192.11,358.04 M144.63,358.63 C147.57,358.54 156.68,358.13 162.24,358.06 C167.80,357.99 172.99,357.98 177.99,358.21 C182.99,358.43 189.85,359.21 192.22,359.41 M146.12,359.79 C148.76,359.75 154.65,359.73 161.97,359.56 C169.29,359.39 185.36,358.89 190.04,358.76 M145.15,359.34 C147.93,359.59 154.19,360.73 161.84,360.81 C169.48,360.89 186.16,359.99 191.02,359.83 M144.70,357.47 C145.13,361.79 146.39,374.49 147.28,383.38 C148.18,392.26 149.01,406.22 150.06,410.78 C151.11,415.35 153.01,410.76 153.60,410.75 M146.01,359.01 C146.36,363.33 147.34,376.36 148.10,384.92 C148.86,393.47 149.75,405.79 150.56,410.36 C151.37,414.94 152.56,412.02 152.96,412.35 M147.27,360.95 C147.58,365.42 148.47,379.86 149.10,387.74 C149.74,395.62 150.75,404.82 151.08,408.24 M146.33,362.48 C146.70,366.73 147.84,380.23 148.60,387.98 C149.35,395.72 150.49,405.45 150.87,408.95 M153.25,408.90 C156.08,409.14 164.14,410.43 170.24,410.30 C176.33,410.18 186.55,408.51 189.81,408.15 M151.89,408.63 C154.99,408.66 164.12,408.95 170.50,408.80 C176.88,408.64 186.90,407.90 190.18,407.72 M152.47,407.00 C155.56,406.99 165.13,406.92 171.02,406.99 C176.90,407.06 184.98,407.34 187.77,407.41 M151.95,407.55 C154.91,407.29 163.75,405.87 169.73,405.99 C175.70,406.11 184.77,407.87 187.78,408.25 M192.02,357.57 C191.15,360.73 187.77,370.87 186.79,376.53 C185.82,382.19 186.19,386.65 186.17,391.51 C186.14,396.37 185.79,402.72 186.64,405.69 C187.50,408.66 190.50,408.72 191.28,409.33 M191.23,359.17 C190.25,362.00 186.23,370.71 185.37,376.12 C184.51,381.53 186.02,386.42 186.06,391.62 C186.09,396.82 184.78,404.24 185.58,407.34 C186.37,410.44 189.94,409.74 190.82,410.22 M189.23,359.75 C188.74,362.80 186.95,371.14 186.30,378.03 C185.65,384.91 185.48,397.22 185.32,401.06 M189.22,360.48 C188.68,363.27 186.41,370.70 186.00,377.19 C185.59,383.69 186.65,395.76 186.78,399.47 M144.10,358.61 C147.08,358.56 156.21,358.37 161.96,358.28 C167.71,358.19 173.73,358.08 178.62,358.07 C183.51,358.07 189.19,358.23 191.31,358.26 M145.34,359.95 C148.06,359.93 154.16,359.91 161.69,359.86 C169.22,359.81 185.70,359.69 190.50,359.65 M145.49,358.66 C145.91,362.94 147.21,375.80 148.03,384.36 C148.85,392.91 149.54,405.53 150.40,409.99 C151.27,414.45 152.75,410.93 153.22,411.12 M146.51,361.45 C146.79,365.75 147.36,379.53 148.20,387.26 C149.03,394.99 150.98,404.38 151.54,407.81 M152.53,408.88 C155.46,408.91 163.90,409.26 170.12,409.11 C176.33,408.95 186.54,408.13 189.82,407.94 M151.75,407.30 C154.73,407.19 163.68,406.69 169.62,406.63 C175.56,406.57 184.44,406.88 187.40,406.93 M191.31,358.08 C190.38,361.10 186.74,370.46 185.75,376.21 C184.76,381.97 185.22,387.47 185.36,392.61 C185.50,397.75 185.70,404.22 186.59,407.07 C187.48,409.92 190.02,409.29 190.70,409.73 M189.92,360.12 C189.44,363.09 187.67,371.35 187.08,377.98 C186.49,384.61 186.48,396.26 186.36,399.91 M149.16,372.89 C149.89,371.47 150.08,366.18 153.56,364.38 C157.03,362.57 165.34,360.67 170.01,362.04 C174.68,363.42 179.34,368.98 181.56,372.61 C183.78,376.23 183.70,381.51 183.35,383.78 C183.00,386.05 181.67,385.78 179.47,386.23 C177.26,386.68 173.32,385.87 170.12,386.47 C166.93,387.08 163.01,389.66 160.28,389.86 C157.56,390.07 154.85,388.08 153.76,387.72 M148.09,389.15 C150.15,390.18 156.72,394.39 160.41,395.35 C164.09,396.31 167.51,396.49 170.18,394.89 C172.86,393.29 173.83,387.87 176.44,385.73 C179.05,383.60 184.27,382.70 185.84,382.09 M154.35,396.81 C155.64,398.24 159.99,405.40 162.10,405.39 C164.20,405.38 165.19,399.23 167.00,396.73 C168.82,394.23 170.15,392.07 172.99,390.40 C175.84,388.72 182.22,387.31 184.07,386.70 M153.65,383.91 C154.31,386.38 157.62,394.68 157.60,398.72 C157.59,402.76 154.24,406.56 153.57,408.13 M176.43,359.21 C177.20,360.43 179.50,366.17 181.05,366.53 C182.60,366.90 184.10,362.56 185.73,361.42 C187.36,360.27 189.99,359.95 190.84,359.66 M148.81,400.41 C149.90,400.38 153.42,399.74 155.35,400.23 C157.27,400.71 157.86,402.29 160.36,403.33 C162.86,404.37 168.69,405.95 170.36,406.47 M144.04,358.04 C146.98,358.22 155.95,358.95 161.66,359.09 C167.36,359.23 173.22,359.07 178.27,358.88 C183.32,358.69 189.68,358.10 191.96,357.95 M154.02,397.16 C155.42,398.48 160.26,405.24 162.46,405.12 C164.66,405.00 165.46,398.86 167.21,396.46 C168.96,394.07 170.05,392.34 172.95,390.75 C175.86,389.16 182.71,387.56 184.66,386.92 M149.70,399.73 C150.61,399.80 153.31,399.51 155.16,400.14 C157.01,400.77 158.28,402.45 160.81,403.52 C163.34,404.59 168.77,406.05 170.36,406.56" fill="none" stroke="#ff0000" stroke-width="0.85" stroke-linejoin="round" stroke-linecap="round" clip-path="url(#clip2)"/>
<clipPath id="clip3"><rect x="226.50" y="360.00" width="47.00" height="55.00"/></clipPath>
<path d="M234.18,362.73 C234.50,363.57 234.60,360.27 236.11,367.77 C237.61,375.28 242.22,408.80 243.21,407.76 C244.20,406.71 242.25,369.21 242.06,361.50 M269.01,397.13 C267.37,391.61 261.67,367.27 259.16,364.02 C256.65,360.77 254.86,378.08 253.94,377.66 C253.02,377.24 253.69,364.19 253.64,361.50 M262.05,411.48 C261.50,408.46 257.07,398.96 258.73,393.34 C260.39,387.72 270.12,377.41 272.00,377.75 C273.88,378.08 270.34,392.41 270.00,395.35 M226.70,364.13 C228.21,364.01 232.85,364.00 235.79,363.44 C238.73,362.88 240.43,361.09 244.33,360.76 C248.22,360.44 254.60,361.71 259.15,361.50 C263.71,361.29 269.60,359.83 271.69,359.49 M228.21,363.98 C229.63,363.85 234.03,363.70 236.72,363.19 C239.41,362.68 240.41,361.20 244.36,360.93 C248.30,360.66 255.76,361.63 260.40,361.56 C265.04,361.49 270.24,360.68 272.21,360.51 M228.37,364.77 C231.07,364.60 237.49,364.42 244.59,363.74 C251.69,363.06 266.57,361.20 270.97,360.69 M228.76,365.59 C231.38,365.38 237.34,364.83 244.51,364.31 C251.69,363.80 267.25,362.78 271.79,362.47 M227.01,364.64 C227.16,368.03 227.49,379.19 227.91,384.97 C228.34,390.76 229.42,394.64 229.59,399.35 C229.75,404.06 229.02,410.92 228.90,413.23 M228.15,363.91 C228.17,367.21 228.16,377.70 228.28,383.70 C228.39,389.71 228.67,394.88 228.84,399.93 C229.02,404.97 229.25,411.63 229.33,413.97 M229.48,365.65 C229.62,369.94 229.90,383.33 230.32,391.38 C230.73,399.44 231.68,410.21 231.95,413.98 M229.65,364.17 C229.82,368.71 230.27,383.29 230.67,391.45 C231.07,399.61 231.82,409.52 232.05,413.13 M230.06,413.22 C233.04,413.15 243.01,413.41 247.95,412.82 C252.89,412.24 255.54,410.06 259.70,409.71 C263.85,409.37 270.68,410.59 272.87,410.76 M228.81,414.40 C231.86,414.00 241.96,412.52 247.11,411.98 C252.26,411.43 255.42,411.64 259.72,411.13 C264.02,410.61 270.71,409.25 272.91,408.87 M231.47,410.48 C234.98,410.44 245.76,410.47 252.54,410.25 C259.32,410.03 268.86,409.33 272.13,409.14 M231.25,412.39 C234.66,411.95 245.00,410.60 251.72,409.74 C258.44,408.88 268.26,407.66 271.56,407.24 M271.56,359.84 C271.57,363.77 271.64,374.97 271.59,383.42 C271.53,391.86 271.31,406.00 271.25,410.52 M271.79,360.94 C271.86,364.76 272.11,375.71 272.16,383.86 C272.21,392.01 272.10,405.50 272.09,409.83 M227.37,364.13 C228.82,364.00 233.25,363.77 236.11,363.36 C238.97,362.94 240.53,362.02 244.52,361.64 C248.51,361.25 255.50,361.35 260.06,361.05 C264.62,360.75 269.93,360.03 271.90,359.83 M228.50,365.66 C231.11,365.23 237.00,363.73 244.13,363.07 C251.25,362.41 266.75,361.94 271.28,361.71 M226.74,364.15 C226.98,367.41 227.79,377.67 228.16,383.66 C228.53,389.66 228.68,395.12 228.96,400.12 C229.23,405.12 229.67,411.40 229.81,413.65 M229.52,365.08 C229.51,369.25 229.16,382.02 229.47,390.08 C229.79,398.15 231.09,409.56 231.41,413.46 M229.38,413.75 C232.38,413.54 242.28,413.05 247.38,412.49 C252.48,411.94 255.88,410.84 259.99,410.40 C264.10,409.96 270.03,409.97 272.04,409.88 M231.04,411.27 C234.59,411.08 245.64,410.59 252.38,410.11 C259.11,409.64 268.26,408.70 271.43,408.41 M271.98,359.75 C271.93,363.76 271.69,375.51 271.67,383.84 C271.65,392.17 271.82,405.41 271.85,409.72 M239.46,364.44 C239.00,367.69 237.59,377.99 236.68,383.94 C235.76,389.88 234.69,395.17 233.98,400.09 C233.26,405.01 232.66,411.24 232.39,413.47 M245.52,363.39 C245.34,366.83 245.28,377.99 244.46,384.05 C243.64,390.12 241.72,394.87 240.59,399.78 C239.46,404.68 238.17,411.20 237.69,413.49 M252.41,384.44 C251.77,387.02 249.24,395.28 248.58,399.93 C247.91,404.58 248.43,410.27 248.40,412.33 M263.64,387.16 C262.73,389.29 259.49,395.81 258.15,399.95 C256.81,404.08 256.03,409.96 255.61,411.96 M268.00,380.81 C267.75,383.48 266.37,392.08 266.47,396.85 C266.56,401.63 268.22,407.34 268.57,409.44 M235.56,368.49 C237.04,370.11 241.18,375.76 244.46,378.17 C247.74,380.58 251.49,383.08 255.25,382.95 C259.00,382.82 264.25,379.83 266.98,377.40 C269.70,374.98 270.84,369.89 271.61,368.39 M247.45,372.89 C248.19,372.32 250.36,369.31 251.89,369.50 C253.42,369.69 256.33,372.18 256.65,374.04 C256.96,375.90 255.30,380.15 253.80,380.68 C252.29,381.21 248.63,377.80 247.60,377.23 M260.53,361.82 C261.34,363.46 263.50,371.14 265.37,371.66 C267.24,372.17 270.70,366.04 271.76,364.92 M229.14,369.90 C230.78,369.56 235.08,368.69 238.93,367.85 C242.79,367.01 248.48,365.03 252.27,364.87 C256.05,364.71 260.08,366.55 261.65,366.89 M229.74,396.79 C231.02,397.94 235.02,402.05 237.41,403.73 C239.79,405.40 242.17,405.63 244.05,406.86 C245.94,408.08 247.96,410.38 248.74,411.09 M229.67,384.42 C231.21,386.02 235.66,391.89 238.93,394.03 C242.21,396.16 246.00,397.38 249.31,397.25 C252.63,397.12 255.15,393.77 258.85,393.24 C262.54,392.72 269.39,393.95 271.49,394.10 M227.04,363.89 C227.23,367.27 227.90,378.20 228.17,384.19 C228.45,390.18 228.47,394.97 228.69,399.85 C228.90,404.72 229.33,411.16 229.46,413.42 M239.55,364.60 C239.10,367.79 237.75,377.77 236.82,383.73 C235.89,389.68 234.69,395.26 233.96,400.32 C233.22,405.38 232.68,411.79 232.43,414.09 M247.15,372.76 C247.95,372.23 250.40,369.29 251.95,369.57 C253.51,369.86 256.13,372.60 256.50,374.47 C256.87,376.34 255.68,380.33 254.18,380.81 C252.69,381.28 248.64,377.92 247.53,377.34 M229.98,384.19 C231.49,385.73 235.96,391.33 239.03,393.45 C242.10,395.57 245.19,396.93 248.42,396.92 C251.65,396.92 254.60,393.97 258.41,393.41 C262.21,392.84 269.09,393.53 271.22,393.56" fill="none" stroke="#ff0000" stroke-width="0.85" stroke-linejoin="round" stroke-linecap="round" clip-path="url(#clip3)"/>
<clipPath id="clip4"><rect x="308.50" y="361.50" width="48.50" height="56.50"/></clipPath>
<path d="M325.74,408.20 C323.11,404.17 311.84,391.55 310.00,384.02 C308.16,376.49 313.02,363.39 314.72,363.00 C316.42,362.61 319.31,378.58 320.23,381.70 M324.98,395.52 C328.03,394.08 338.15,385.35 343.24,386.93 C348.32,388.50 355.85,404.27 355.50,404.95 C355.15,405.63 343.51,393.33 341.11,391.01 M329.22,377.89 C332.23,383.95 349.37,414.03 347.25,414.29 C345.14,414.54 315.16,384.43 316.54,379.43 C317.91,374.42 349.01,383.45 355.50,384.25 M345.36,368.31 C342.26,368.66 332.60,364.18 326.71,370.44 C320.82,376.71 311.55,401.57 310.00,405.90 C308.45,410.24 316.19,398.02 317.43,396.45 M322.80,396.03 C325.76,399.45 339.67,422.01 340.56,416.50 C341.45,410.99 329.07,368.03 328.13,363.00 C327.20,357.97 333.82,382.46 334.96,386.35 M309.91,364.05 C312.23,363.93 318.98,363.52 323.87,363.35 C328.76,363.18 333.87,363.23 339.26,363.04 C344.65,362.85 353.39,362.37 356.21,362.23 M311.77,365.89 C315.17,365.77 325.15,365.64 332.18,365.20 C339.20,364.76 350.30,363.58 353.92,363.25 M309.86,365.70 C309.93,368.87 310.09,379.08 310.29,384.72 C310.48,390.36 310.94,394.25 311.03,399.54 C311.13,404.83 310.89,413.64 310.86,416.46 M312.50,367.16 C312.47,371.18 312.23,383.34 312.32,391.30 C312.41,399.27 312.93,411.00 313.05,414.94 M311.25,415.56 C314.71,415.40 324.55,414.49 332.05,414.58 C339.55,414.68 352.21,415.88 356.25,416.13 M312.13,412.60 C315.60,412.82 325.72,413.81 332.92,413.94 C340.12,414.07 351.60,413.47 355.34,413.37 M355.39,361.46 C355.29,365.21 354.89,375.04 354.77,383.96 C354.66,392.89 354.71,409.84 354.70,415.01 M310.75,364.38 C312.89,364.35 318.76,364.35 323.62,364.16 C328.48,363.98 334.62,363.72 339.91,363.27 C345.20,362.82 352.78,361.77 355.35,361.47 M311.73,366.14 C315.11,366.01 324.85,365.73 332.02,365.35 C339.18,364.96 350.93,364.07 354.71,363.81 M310.29,365.09 C310.15,368.27 309.36,378.38 309.45,384.16 C309.54,389.94 310.61,394.46 310.84,399.76 C311.06,405.05 310.80,413.24 310.80,415.93 M312.30,366.56 C312.14,370.79 311.26,383.96 311.29,391.96 C311.33,399.96 312.31,410.79 312.52,414.56 M310.78,416.40 C314.40,416.31 325.03,415.95 332.50,415.86 C339.97,415.77 351.76,415.86 355.61,415.86 M311.56,412.78 C315.06,413.00 325.41,414.02 332.57,414.07 C339.72,414.13 350.83,413.28 354.49,413.12 M355.50,361.95 C355.31,365.59 354.40,374.95 354.37,383.79 C354.34,392.64 355.16,409.83 355.32,415.04 M311.12,368.51 C313.25,370.49 319.95,376.52 323.91,380.40 C327.87,384.28 330.77,387.73 334.86,391.80 C338.95,395.87 345.05,401.37 348.44,404.83 C351.82,408.30 354.05,411.30 355.17,412.59 M355.86,364.77 C353.72,366.58 347.08,371.67 343.05,375.64 C339.01,379.61 335.33,384.56 331.66,388.59 C327.99,392.61 324.52,395.74 321.04,399.80 C317.56,403.87 312.49,410.79 310.78,412.99 M312.59,392.63 C313.10,390.68 313.45,384.50 315.67,380.92 C317.90,377.35 321.80,373.32 325.96,371.17 C330.11,369.02 336.16,368.03 340.62,368.03 C345.08,368.03 350.70,370.65 352.71,371.17 M315.59,366.37 C316.43,369.39 317.81,378.86 320.62,384.49 C323.42,390.12 328.99,395.18 332.43,400.15 C335.88,405.13 339.79,411.99 341.27,414.35 M336.66,364.55 C335.86,366.53 331.85,372.73 331.83,376.45 C331.82,380.17 333.77,384.24 336.56,386.86 C339.35,389.49 345.50,391.87 348.58,392.19 C351.67,392.52 353.98,389.38 355.07,388.82 M310.83,393.89 C313.09,394.44 319.49,396.48 324.37,397.19 C329.25,397.90 335.14,397.59 340.12,398.14 C345.11,398.70 351.93,400.13 354.29,400.53 M316.45,408.60 C317.69,407.22 321.26,400.89 323.91,400.31 C326.57,399.73 328.84,403.80 332.40,405.11 C335.96,406.43 341.54,407.93 345.26,408.21 C348.98,408.48 353.15,407.00 354.73,406.76 M346.32,366.87 C347.23,368.60 351.44,373.50 351.82,377.26 C352.21,381.01 350.01,385.64 348.63,389.38 C347.24,393.12 344.05,395.56 343.51,399.70 C342.96,403.84 345.04,411.81 345.34,414.23 M324.55,414.77 C323.86,413.08 320.22,408.13 320.43,404.64 C320.64,401.14 323.03,397.15 325.82,393.80 C328.61,390.45 334.02,388.10 337.16,384.53 C340.31,380.96 343.41,374.40 344.66,372.37 M313.26,375.59 C314.86,375.34 319.39,373.42 322.85,374.09 C326.31,374.75 330.54,377.89 334.02,379.57 C337.50,381.25 342.10,383.39 343.72,384.15 M310.81,403.07 C312.25,403.62 316.62,404.70 319.43,406.41 C322.24,408.11 326.30,412.12 327.68,413.27 M311.05,368.10 C313.22,370.26 320.02,377.17 324.06,381.11 C328.11,385.04 331.32,387.67 335.30,391.70 C339.27,395.74 344.58,401.72 347.90,405.32 C351.22,408.91 354.01,411.94 355.23,413.26 M355.50,365.02 C353.49,366.83 347.28,371.91 343.45,375.89 C339.62,379.87 336.21,384.87 332.52,388.89 C328.82,392.90 324.76,395.89 321.28,399.96 C317.79,404.03 313.22,411.06 311.60,413.28 M312.78,391.77 C313.37,389.93 314.15,384.23 316.32,380.75 C318.50,377.28 321.95,373.07 325.84,370.89 C329.74,368.72 335.14,367.69 339.71,367.70 C344.28,367.70 351.02,370.40 353.28,370.94 M315.92,366.52 C316.72,369.47 318.09,378.63 320.72,384.22 C323.35,389.81 328.12,395.05 331.70,400.06 C335.27,405.07 340.42,411.91 342.17,414.28 M336.74,364.64 C335.89,366.47 331.52,371.76 331.63,375.60 C331.73,379.43 334.56,384.84 337.37,387.64 C340.17,390.45 345.51,392.28 348.46,392.44 C351.40,392.59 353.93,389.22 355.03,388.58 M310.43,393.81 C312.78,394.37 319.49,396.48 324.51,397.20 C329.54,397.93 335.56,397.64 340.60,398.17 C345.63,398.69 352.37,399.97 354.73,400.33 M346.68,366.94 C347.52,368.72 351.53,373.87 351.76,377.58 C351.99,381.30 349.49,385.49 348.05,389.24 C346.61,392.98 343.72,395.89 343.12,400.07 C342.52,404.24 344.23,411.91 344.46,414.28 M324.27,414.72 C323.68,413.17 320.48,408.97 320.73,405.42 C320.99,401.87 323.18,396.86 325.81,393.39 C328.43,389.92 333.21,387.93 336.49,384.58 C339.76,381.23 343.94,375.17 345.43,373.29" fill="none" stroke="#ff0000" stroke-width="0.85" stroke-linejoin="round" stroke-linecap="round" clip-path="url(#clip4)"/>
<clipPath id="clip5"><rect x="386.00" y="359.50" width="49.00" height="55.80"/></clipPath>
<path d="M387.95,363.72 C392.07,363.79 405.11,364.06 412.69,364.12 C420.28,364.18 429.99,364.09 433.45,364.08 M387.89,364.77 C392.07,364.78 405.48,365.04 412.99,364.82 C420.50,364.59 429.64,363.66 432.97,363.43 M387.96,362.73 C388.12,366.32 389.07,375.97 388.92,384.25 C388.76,392.53 387.36,407.73 387.05,412.43 M389.19,364.87 C389.41,368.50 390.36,379.00 390.48,386.63 C390.60,394.26 390.00,406.66 389.90,410.67 M388.58,365.70 C388.27,370.23 386.74,385.62 386.71,392.87 C386.68,400.12 388.12,406.49 388.41,409.22 M390.60,405.71 C394.11,405.74 404.61,405.69 411.68,405.89 C418.76,406.10 429.49,406.76 433.05,406.93 M389.04,413.88 C392.95,413.75 405.30,413.87 412.48,413.13 C419.67,412.38 428.87,410.01 432.15,409.38 M390.96,408.31 C394.36,408.15 404.73,407.24 411.39,407.31 C418.06,407.38 427.70,408.47 430.97,408.71 M431.98,363.59 C431.95,366.95 431.84,376.30 431.84,383.72 C431.85,391.15 431.97,404.07 432.00,408.14 M431.00,364.80 C431.07,368.41 431.10,379.62 431.45,386.43 C431.81,393.23 432.84,402.42 433.12,405.62 M387.95,363.58 C391.90,363.57 404.14,363.57 411.62,363.52 C419.10,363.48 429.30,363.35 432.84,363.31 M388.34,364.39 C392.25,364.49 404.53,364.96 411.78,364.98 C419.04,364.99 428.52,364.54 431.86,364.45 M388.46,363.68 C388.49,367.06 388.74,375.69 388.67,383.96 C388.61,392.22 388.15,408.39 388.05,413.27 M389.24,364.29 C389.41,368.18 390.31,379.75 390.25,387.67 C390.18,395.60 389.08,407.81 388.85,411.84 M387.94,366.29 C387.92,370.66 387.67,385.23 387.82,392.55 C387.96,399.87 388.66,407.27 388.83,410.21 M389.68,404.78 C393.38,404.76 404.77,404.41 411.92,404.65 C419.06,404.89 429.11,405.96 432.55,406.22 M389.82,413.49 C393.48,413.20 404.76,412.35 411.76,411.74 C418.77,411.13 428.50,410.14 431.85,409.82 M391.14,408.72 C394.65,408.68 405.50,408.56 412.20,408.51 C418.89,408.46 428.13,408.44 431.32,408.42 M432.53,363.65 C432.39,367.06 431.84,376.74 431.70,384.10 C431.56,391.46 431.70,403.86 431.70,407.81 M431.60,365.29 C431.53,369.01 431.14,380.73 431.17,387.60 C431.20,394.47 431.67,403.36 431.77,406.51 M394.10,365.99 C397.06,369.27 405.87,378.57 411.90,385.66 C417.92,392.75 427.20,404.72 430.26,408.53 M432.64,365.60 C429.22,369.25 418.59,379.95 412.09,387.54 C405.59,395.14 396.70,407.24 393.62,411.18 M420.03,363.69 C417.35,367.17 408.94,377.96 403.95,384.59 C398.96,391.23 392.40,400.34 390.09,403.49 M402.47,364.68 C404.81,367.88 411.51,377.90 416.51,383.88 C421.50,389.85 429.79,397.75 432.45,400.52 M399.44,365.13 C399.59,368.32 400.21,377.61 400.34,384.30 C400.47,390.98 400.25,401.74 400.23,405.23 M410.36,364.24 C412.22,366.75 417.84,374.33 421.51,379.27 C425.19,384.22 430.62,391.48 432.44,393.92 M424.74,364.48 C423.19,368.57 418.72,381.04 415.46,389.00 C412.21,396.96 406.91,408.37 405.19,412.24 M389.38,381.06 C391.02,383.76 395.95,392.16 399.22,397.26 C402.50,402.36 407.40,409.28 409.04,411.69" fill="none" stroke="#ff0000" stroke-width="0.85" stroke-linejoin="round" stroke-linecap="round" clip-path="url(#clip5)"/>
<circle cx="108" cy="409.5" r="1.6" fill="none" stroke="#222" stroke-width="1.1"/>
<circle cx="91" cy="401.5" r="1.3" fill="none" stroke="#888" stroke-width="0.8"/>
<circle cx="193.5" cy="411" r="1.6" fill="none" stroke="#222" stroke-width="1.1"/>
<circle cx="149" cy="359" r="1.3" fill="none" stroke="#888" stroke-width="0.8"/>
<circle cx="247.3" cy="411.8" r="1.6" fill="none" stroke="#222" stroke-width="1.1"/>
<circle cx="355.5" cy="414" r="1.6" fill="none" stroke="#222" stroke-width="1.1"/>
<circle cx="350.5" cy="391.5" r="1.5" fill="none" stroke="#777" stroke-width="0.9"/>
<circle cx="389.5" cy="362" r="1.6" fill="none" stroke="#222" stroke-width="1.1"/>
<circle cx="426" cy="407" r="1.3" fill="none" stroke="#888" stroke-width="0.8"/>
</svg>
</body></html>
